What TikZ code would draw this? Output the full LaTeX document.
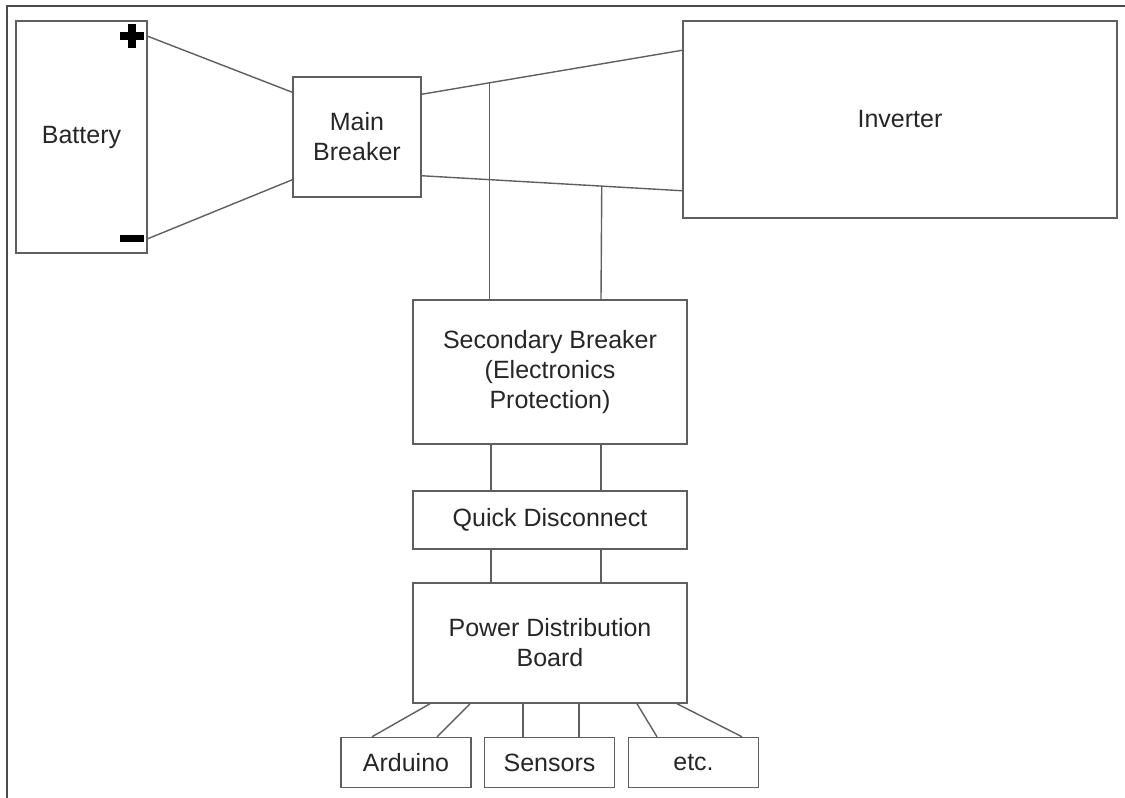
\documentclass[tikz,border=0pt]{standalone}
\usepackage{fontspec}
\setmainfont{Liberation Sans}
\begin{document}
\begin{tikzpicture}[x=1pt,y=-1pt,
  box/.style={draw=linegray, line width=1.5pt, rectangle, inner sep=0pt, align=center,
    text=textgray, font=\fontsize{25}{30}\selectfont},
  wire/.style={draw=linegray, line width=1.4pt},
  sign/.style={fill=black}]
\definecolor{linegray}{HTML}{5F5F5F}
\definecolor{textgray}{HTML}{262626}
\definecolor{framegray}{HTML}{4A4A4A}
\useasboundingbox (0,0) rectangle (1125,798);
% frame
\draw[framegray, line width=2.2pt] (7,798) -- (7,6) -- (1125,6);
% nodes
\node[box, minimum width=131pt, minimum height=232pt] (bat) at (81.5,137) {Battery};
\node[box, minimum width=128pt, minimum height=120pt] (mb) at (357,137) {Main\\Breaker};
\node[box, minimum width=434pt, minimum height=197pt] (inv) at (900,119.5) {Inverter};
\node[box, minimum width=274pt, minimum height=144pt] (sb) at (550,372) {Secondary Breaker\\(Electronics\\Protection)};
\node[box, minimum width=274pt, minimum height=58pt] (qd) at (550,520) {Quick Disconnect};
\node[box, minimum width=274pt, minimum height=120pt] (pdb) at (550,643) {Power Distribution\\Board};
\node[box, minimum width=130pt, minimum height=50pt] (ard) at (406,762.5) {Arduino};
\node[box, minimum width=130pt, minimum height=50pt] (sen) at (549.5,762.5) {Sensors};
\node[box, minimum width=130pt, minimum height=50pt] (etc) at (693.5,762.5) {etc.};
% battery terminal signs
\fill[sign] (120,32) rectangle (144,40);
\fill[sign] (128,24) rectangle (136,48);
\fill[sign] (120,235) rectangle (144,242);
% battery to main breaker
\draw[wire] ([yshift=-16pt]bat.north east) -- ([yshift=-16pt]mb.north west);
\draw[wire] ([yshift=15pt]bat.south east) -- ([yshift=18pt]mb.south west);
% main breaker to inverter
\draw[wire] ([yshift=-18pt]mb.north east) -- ([yshift=-30pt]inv.north west)
  coordinate[pos=0.2595] (j1);
\draw[wire] ([yshift=22pt]mb.south east) -- ([yshift=28pt]inv.south west)
  coordinate[pos=0.691] (j2);
% taps to secondary breaker
\draw[wire] (j1) -- (j1 |- sb.north);
\draw[wire] (j2) -- ([xshift=51pt]sb.north);
% secondary breaker to quick disconnect
\draw[wire] ([xshift=-59pt]sb.south) -- ([xshift=-59pt]qd.north);
\draw[wire] ([xshift=51pt]sb.south) -- ([xshift=51pt]qd.north);
% quick disconnect to power distribution board
\draw[wire] ([xshift=-59pt]qd.south) -- ([xshift=-59pt]pdb.north);
\draw[wire] ([xshift=51pt]qd.south) -- ([xshift=51pt]pdb.north);
% board to loads
\draw[wire] ([xshift=-120pt]pdb.south) -- ([xshift=-34pt]ard.north);
\draw[wire] ([xshift=-80pt]pdb.south) -- ([xshift=31pt]ard.north);
\draw[wire] ([xshift=-27pt]pdb.south) -- ([xshift=-26.5pt]sen.north);
\draw[wire] ([xshift=29pt]pdb.south) -- ([xshift=29.5pt]sen.north);
\draw[wire] ([xshift=87pt]pdb.south) -- ([xshift=-36.5pt]etc.north);
\draw[wire] ([xshift=127pt]pdb.south) -- ([xshift=48.5pt]etc.north);
\end{tikzpicture}
\end{document}
